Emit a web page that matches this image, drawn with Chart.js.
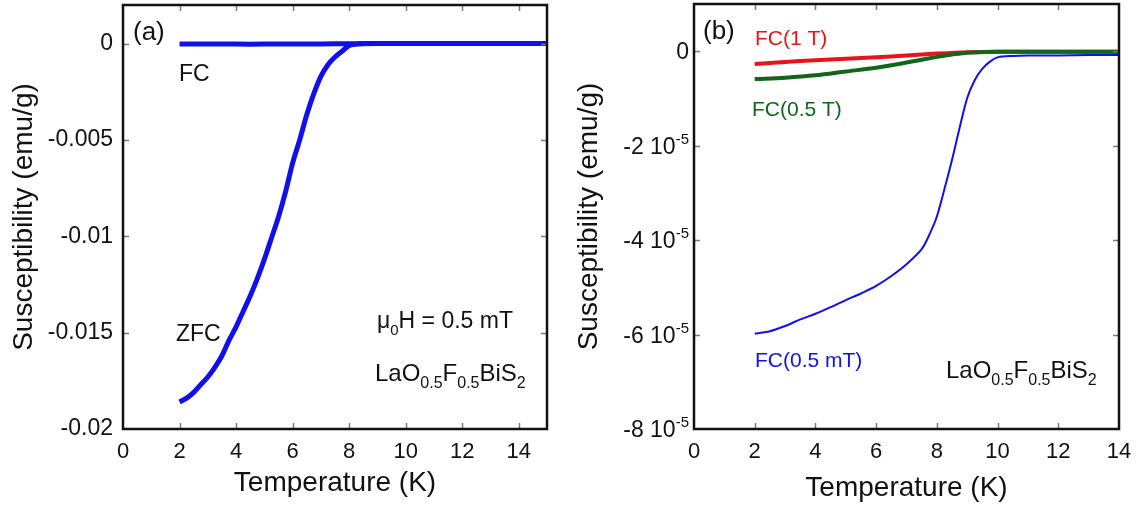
<!DOCTYPE html>
<html>
<head>
<meta charset="utf-8">
<script src="https://cdn.jsdelivr.net/npm/chart.js@4/dist/chart.umd.min.js"></script>
<style>
  html, body { margin: 0; padding: 0; background: #fff; }
  #wrap { width: 1140px; height: 510px; display: flex; }
  .panel { width: 570px; height: 510px; }
</style>
</head>
<body>
<div id="wrap">
  <div class="panel"><canvas id="chart-a" width="570" height="510"></canvas></div>
  <div class="panel"><canvas id="chart-b" width="570" height="510"></canvas></div>
</div>
<script>
// ---- panel (a): 0.5 mT, ZFC and FC ----
var tempZfcA = [2.0, 2.25, 2.5, 2.75, 3.0, 3.25, 3.5, 3.75, 4.0, 4.25, 4.5, 4.75, 5.0, 5.25, 5.5, 5.75,
                6.0, 6.25, 6.5, 6.75, 7.0, 7.25, 7.5, 7.75, 8.0, 8.25, 8.5, 9, 10, 11, 12, 13, 14, 15];
var chiZfcA = [-0.0186, -0.0184, -0.0181, -0.0177, -0.0173, -0.0168, -0.0162, -0.0154, -0.0147, -0.0139,
               -0.0131, -0.0122, -0.0112, -0.0101, -0.0090, -0.0077, -0.0062, -0.0050, -0.0037, -0.0026,
               -0.0017, -0.0011, -0.0007, -0.0004, -0.0001, -0.00003, 0, 0, 0, 0, 0, 0, 0, 0];
var tempFcA = [2, 3, 4, 5, 6, 7, 8, 9, 10, 11, 12, 13, 14, 15];
var chiFcA = [-0.00003, -0.00003, -0.00003, -0.00003, -0.00002, -0.00002, -0.00001, 0, 0, 0, 0, 0, 0, 0];
var xTicksA = [0, 2, 4, 6, 8, 10, 12, 14];
var yTicksA = [-0.02, -0.015, -0.01, -0.005, 0];
var yTickLabelsA = ['-0.02', '-0.015', '-0.01', '-0.005', '0'];

// ---- panel (b): FC at 1 T, 0.5 T, 0.5 mT ----
var tempFc1T = [2, 3, 4, 5, 6, 7, 8, 9, 10, 11, 12, 13, 14];
var chiFc1T = [-0.27e-5, -0.23e-5, -0.19e-5, -0.16e-5, -0.13e-5, -0.09e-5, -0.05e-5, -0.02e-5,
               -0.01e-5, -0.01e-5, -0.01e-5, -0.01e-5, -0.01e-5];
var tempFc05T = [2, 3, 4, 5, 6, 7, 8, 8.5, 9, 10, 11, 12, 13, 14];
var chiFc05T = [-0.59e-5, -0.56e-5, -0.51e-5, -0.43e-5, -0.35e-5, -0.24e-5, -0.12e-5, -0.07e-5,
                -0.03e-5, -0.01e-5, -0.01e-5, -0.01e-5, -0.01e-5, -0.01e-5];
var tempFc05mT = [2, 2.5, 3, 3.5, 4, 4.5, 5, 5.5, 6, 6.5, 7, 7.5, 7.75, 8, 8.25, 8.5, 8.75, 9,
                  9.25, 9.5, 9.75, 10, 10.5, 11, 12, 13, 14];
var chiFc05mT = [-5.98e-5, -5.93e-5, -5.82e-5, -5.68e-5, -5.56e-5, -5.42e-5, -5.27e-5, -5.13e-5,
                 -4.97e-5, -4.76e-5, -4.51e-5, -4.19e-5, -3.89e-5, -3.50e-5, -2.92e-5, -2.30e-5,
                 -1.62e-5, -0.99e-5, -0.61e-5, -0.37e-5, -0.22e-5, -0.13e-5, -0.10e-5, -0.09e-5,
                 -0.09e-5, -0.08e-5, -0.08e-5];
var xTicksB = [0, 2, 4, 6, 8, 10, 12, 14];
var yTicksB = [-8e-5, -6e-5, -4e-5, -2e-5, 0];
var yTickBaseB = ['-8 10', '-6 10', '-4 10', '-2 10', '0'];
var yTickExpB = ['-5', '-5', '-5', '-5', ''];

var FONT = "'Liberation Sans', Arial, sans-serif";
var BLUE = '#1010ea';
var RED = '#e8141a';
var GREEN = '#12661a';

function pts(xs, ys) {
    return xs.map((x, i) => ({x: x, y: ys[i]}));
}

// rich text: parts = [[text, 'n'|'sub'|'sup'], ...]
function drawRich(ctx, x, y, parts, size, color) {
    var subSize = Math.round(size * 0.66);
    ctx.save();
    ctx.fillStyle = color;
    ctx.textAlign = 'left';
    ctx.textBaseline = 'alphabetic';
    parts.forEach(p => {
        var s = p[1] == 'n' ? size : subSize;
        var dy = p[1] == 'sub' ? size * 0.3 : (p[1] == 'sup' ? -size * 0.42 : 0);
        ctx.font = s + 'px ' + FONT;
        ctx.fillText(p[0], x, y + dy);
        x += ctx.measureText(p[0]).width;
    });
    ctx.restore();
}

// frame, inward ticks, notes
var framePlugin = {
    id: 'frame',
    afterDraw(chart, args, opts) {
        var ctx = chart.ctx;
        var a = chart.chartArea;
        var xs = chart.scales.x, ys = chart.scales.y;
        ctx.save();
        ctx.strokeStyle = '#7a7a7a';
        ctx.lineWidth = 1.5;
        ctx.beginPath();
        opts.xTicks.forEach(v => {
            var px = Math.round(xs.getPixelForValue(v)) + 0.5;
            if (px < a.left + 2 || px > a.right - 2) return;
            ctx.moveTo(px, a.bottom); ctx.lineTo(px, a.bottom - 6);
            ctx.moveTo(px, a.top); ctx.lineTo(px, a.top + 6);
        });
        opts.yTicks.forEach(v => {
            var py = Math.round(ys.getPixelForValue(v)) + 0.5;
            if (py < a.top + 2 || py > a.bottom - 2) return;
            ctx.moveTo(a.left, py); ctx.lineTo(a.left + 6, py);
            ctx.moveTo(a.right, py); ctx.lineTo(a.right - 6, py);
        });
        ctx.stroke();
        ctx.strokeStyle = '#111';
        ctx.lineWidth = 2.5;
        ctx.strokeRect(a.left, a.top, a.right - a.left, a.bottom - a.top);
        ctx.restore();

        if (opts.yBase) {
            ctx.save();
            opts.yTicks.forEach((v, i) => {
                var py = ys.getPixelForValue(v);
                var supW = 0;
                if (opts.yExp[i]) {
                    ctx.font = '15px ' + FONT;
                    supW = ctx.measureText(opts.yExp[i]).width;
                }
                ctx.font = '23px ' + FONT;
                var baseW = ctx.measureText(opts.yBase[i]).width;
                var x0 = a.left - 5 - supW - baseW;
                drawRich(ctx, x0, py + 8, [[opts.yBase[i], 'n']], 23, '#111');
                if (opts.yExp[i]) {
                    ctx.font = '15px ' + FONT;
                    ctx.fillStyle = '#111';
                    ctx.fillText(opts.yExp[i], x0 + baseW, py - 2);
                }
            });
            ctx.restore();
        }

        opts.notes.forEach(n => drawRich(ctx, n.x, n.y, n.parts, n.size, n.color));
    }
};

function makeChart(canvasId, datasets, cfg) {
    var ctx = document.getElementById(canvasId).getContext('2d');
    return new Chart(ctx, {
        type: 'scatter',
        data: {datasets: datasets},
        options: {
            responsive: false,
            animation: false,
            layout: {padding: {top: cfg.area.top, right: 570 - cfg.area.right, left: 0, bottom: 0}},
            plugins: {
                legend: {display: false},
                tooltip: {enabled: false},
                frame: cfg.frame
            },
            scales: {
                x: {
                    type: 'linear',
                    min: cfg.xMin, max: cfg.xMax,
                    afterBuildTicks: s => { s.ticks = cfg.xTicks.map(v => ({value: v})); },
                    afterFit: s => {
                        s.height = 510 - cfg.area.bottom;
                        s.paddingLeft = 0; s.paddingRight = 0;
                    },
                    grid: {display: false, drawTicks: false},
                    border: {display: false},
                    ticks: {
                        color: '#111', padding: 10, maxRotation: 0,
                        font: {family: FONT, size: 22},
                        callback: v => String(v)
                    },
                    title: {
                        display: true, text: 'Temperature (K)', color: '#111',
                        font: {family: FONT, size: 28},
                        padding: {top: 0, bottom: cfg.xTitlePad}
                    }
                },
                y: {
                    type: 'linear',
                    min: cfg.yMin, max: cfg.yMax,
                    afterBuildTicks: s => { s.ticks = cfg.yTicks.map(v => ({value: v})); },
                    afterFit: s => {
                        s.width = cfg.area.left;
                        s.paddingTop = 0; s.paddingBottom = 0;
                    },
                    grid: {display: false, drawTicks: false},
                    border: {display: false},
                    ticks: {
                        display: cfg.yLabels != null,
                        color: '#111', padding: 10,
                        font: {family: FONT, size: 23},
                        callback: v => {
                            var i = cfg.yTicks.findIndex(t => Math.abs(t - v) < 1e-12);
                            return i >= 0 && cfg.yLabels ? cfg.yLabels[i] : '';
                        }
                    },
                    title: {
                        display: true, text: 'Susceptibility (emu/g)', color: '#111',
                        font: {family: FONT, size: 28},
                        padding: {top: cfg.yTitlePad, bottom: 0}
                    }
                }
            }
        },
        plugins: [framePlugin]
    });
}

function lineSet(xs, ys, color, width) {
    return {
        data: pts(xs, ys),
        showLine: true,
        borderColor: color,
        backgroundColor: color,
        borderWidth: width,
        pointRadius: 0,
        tension: 0.3,
        clip: false
    };
}

makeChart('chart-a', [
    lineSet(tempFcA, chiFcA, BLUE, 5),
    lineSet(tempZfcA, chiZfcA, BLUE, 5)
], {
    area: {left: 123, right: 547, top: 5, bottom: 429},
    xMin: 0, xMax: 15, yMin: -0.02, yMax: 0.002,
    xTicks: xTicksA, yTicks: yTicksA, yLabels: yTickLabelsA,
    xTitlePad: 10, yTitlePad: 7,
    frame: {
        xTicks: xTicksA, yTicks: yTicksA,
        notes: [
            {x: 133, y: 40, size: 26, color: '#111', parts: [['(a)', 'n']]},
            {x: 179, y: 81, size: 23, color: '#111', parts: [['FC', 'n']]},
            {x: 176, y: 341, size: 23, color: '#111', parts: [['ZFC', 'n']]},
            {x: 377, y: 328, size: 23, color: '#111',
             parts: [['μ', 'n'], ['0', 'sub'], ['H = 0.5 mT', 'n']]},
            {x: 375, y: 381, size: 24, color: '#111',
             parts: [['LaO', 'n'], ['0.5', 'sub'], ['F', 'n'], ['0.5', 'sub'], ['BiS', 'n'], ['2', 'sub']]}
        ]
    }
});

makeChart('chart-b', [
    lineSet(tempFc05mT, chiFc05mT, BLUE, 2),
    lineSet(tempFc05T, chiFc05T, GREEN, 4),
    lineSet(tempFc1T, chiFc1T, RED, 4)
], {
    area: {left: 124, right: 549, top: 4, bottom: 429},
    xMin: 0, xMax: 14, yMin: -8e-5, yMax: 1e-5,
    xTicks: xTicksB, yTicks: yTicksB, yLabels: null,
    xTitlePad: 5, yTitlePad: 2,
    frame: {
        xTicks: xTicksB, yTicks: yTicksB, yBase: yTickBaseB, yExp: yTickExpB,
        notes: [
            {x: 133, y: 39, size: 26, color: '#111', parts: [['(b)', 'n']]},
            {x: 185, y: 45, size: 21, color: RED, parts: [['FC(1 T)', 'n']]},
            {x: 182, y: 116, size: 21, color: GREEN, parts: [['FC(0.5 T)', 'n']]},
            {x: 185, y: 367, size: 21, color: BLUE, parts: [['FC(0.5 mT)', 'n']]},
            {x: 376, y: 378, size: 24, color: '#111',
             parts: [['LaO', 'n'], ['0.5', 'sub'], ['F', 'n'], ['0.5', 'sub'], ['BiS', 'n'], ['2', 'sub']]}
        ]
    }
});
</script>
</body>
</html>
